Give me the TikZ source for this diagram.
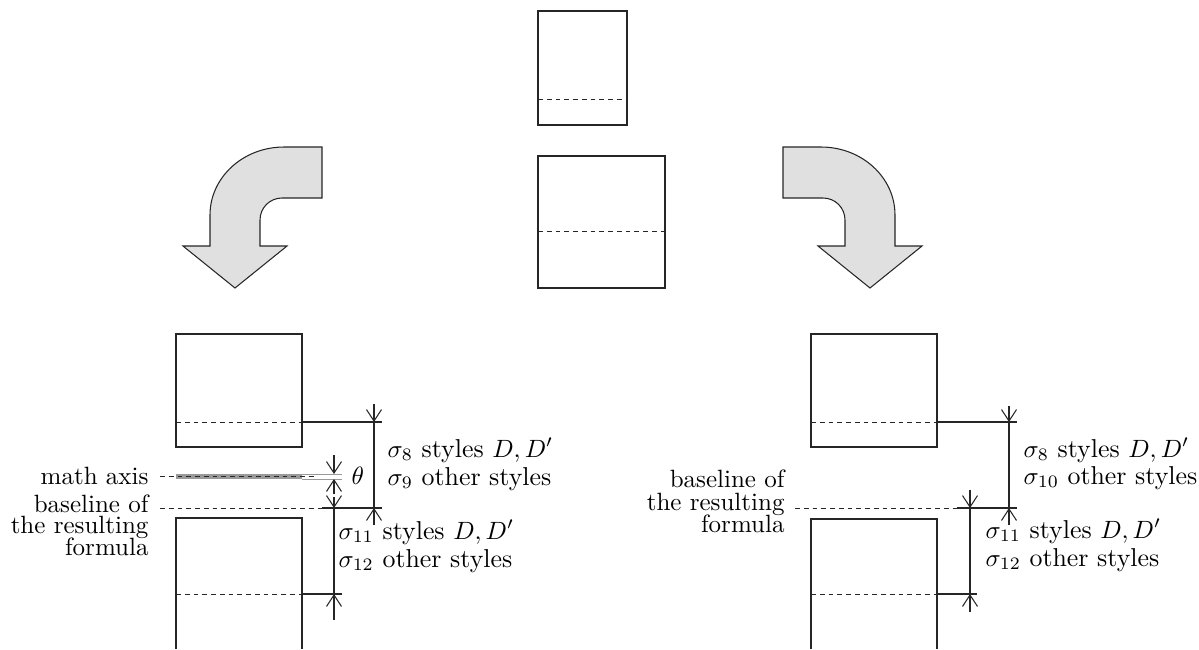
\documentclass[tikz,border=0pt]{standalone}
\usetikzlibrary{arrows.meta}
\begin{document}
\begin{tikzpicture}[x=0.4pt,y=-0.4pt,
  box/.style={draw=black!85, line width=0.42pt},
  base/.style={draw=black!85, dash pattern=on 1.9pt off 1.6pt, line width=0.38pt},
  dim/.style={draw=black!85, line width=0.42pt},
  tip/.style={-{Straight Barb[length=4.6pt,width=6pt]}},
  lab/.style={inner sep=0pt, font=\fontsize{10}{12}\selectfont},
  slab/.style={inner sep=0pt, font=\fontsize{10.35}{12}\selectfont},
  bigarrow/.style={draw=black!85, line width=0.42pt, fill=black!12}]
\useasboundingbox (0,0) rectangle (1199,649);

% top centre boxes
\draw[box] (538,11) rectangle (627,125);
\draw[base] (538,99) -- (627,99);
\draw[box] (538,156) rectangle (665,288);
\draw[base] (538,231) -- (665,231);

% bent arrows
\path[bigarrow] (322,147) -- (284,147) .. controls (243.1,147) and (210,177.4) .. (210,215)
  -- (210,246) -- (183,246) -- (235,288) -- (287,246) -- (260,246) -- (260,220)
  .. controls (260,207.8) and (269.8,198) .. (282,198) -- (322,198) -- cycle;
\begin{scope}[shift={(1105,0)},xscale=-1]
\path[bigarrow] (322,147) -- (284,147) .. controls (243.1,147) and (210,177.4) .. (210,215)
  -- (210,246) -- (183,246) -- (235,288) -- (287,246) -- (260,246) -- (260,220)
  .. controls (260,207.8) and (269.8,198) .. (282,198) -- (322,198) -- cycle;
\end{scope}

% ---------- left result ----------
\draw[box] (176,334) rectangle (302,447);
\draw[base] (176,422) -- (302,422);
\draw[dim] (302,422) -- (382,422);
\draw[box] (176,649) -- (176,518) -- (302,518) -- (302,649);
\draw[base] (176,594) -- (302,594);
\draw[dim] (302,594) -- (342,594);

% math axis
\fill[black!40] (176,474) rectangle (302,479);
\draw[black!40, line width=0.4pt] (302,474) -- (342,474) (302,479) -- (342,479);
\draw[base] (160,476.5) -- (317,476.5);
\node[lab, anchor=base east] (ma) at (149,484) {math axis};

% baseline
\draw[base] (160,508) -- (322,508);
\draw[dim] (322,508) -- (382,508);
\node[lab, anchor=base east] (lb1) at (149,512) {baseline of};
\node[lab, anchor=base east] (lb2) at (149,533.5) {the resulting};
\node[lab, anchor=base east] (lb3) at (149,555) {formula};

% sigma8 dimension
\draw[dim,tip] (374,404) -- (374,422);
\draw[dim] (374,422) -- (374,508);
\draw[dim,tip] (374,525) -- (374,508);

% theta and sigma11 dimension
\draw[dim,tip] (334,455) -- (334,474);
\draw[dim,tip] (334,490) -- (334,479);
\draw[dim, dash pattern=on 1.5pt off 1.5pt] (334,490) -- (334,497);
\draw[dim,tip] (334,497) -- (334,508);
\draw[dim] (334,508) -- (334,594);
\draw[dim,tip] (334,620) -- (334,594);

\node[slab, anchor=base west] (th) at (351,484) {$\theta$};
\node[slab, anchor=base west] (ls1) at (387,457) {$\sigma_8$ styles $D,D'$};
\node[slab, anchor=base west] (ls2) at (387,485) {$\sigma_9$ other styles};
\node[slab, anchor=base west] (ls3) at (338,539) {$\sigma_{11}$ styles $D,D'$};
\node[slab, anchor=base west] (ls4) at (338,567) {$\sigma_{12}$ other styles};

% ---------- right result ----------
\draw[box] (811,334) rectangle (937,447);
\draw[base] (811,422) -- (937,422);
\draw[dim] (937,422) -- (1017,422);
\draw[box] (811,649) -- (811,519) -- (937,519) -- (937,649);
\draw[base] (811,594) -- (937,594);
\draw[dim] (937,594) -- (977,594);

\draw[base] (795,508) -- (957,508);
\draw[dim] (957,508) -- (1017,508);
\node[lab, anchor=base east] (rb1) at (785,487.5) {baseline of};
\node[lab, anchor=base east] (rb2) at (785,510) {the resulting};
\node[lab, anchor=base east] (rb3) at (785,532.5) {formula};

\draw[dim,tip] (1009,406) -- (1009,422);
\draw[dim] (1009,422) -- (1009,508);
\draw[dim,tip] (1009,525) -- (1009,508);

\draw[dim,tip] (970,490) -- (970,508);
\draw[dim] (970,508) -- (970,594);
\draw[dim,tip] (970,612) -- (970,594);

\node[slab, anchor=base west] (rs1) at (1023,457) {$\sigma_8$ styles $D,D'$};
\node[slab, anchor=base west] (rs2) at (1023,484) {$\sigma_{10}$ other styles};
\node[slab, anchor=base west] (rs3) at (985,538) {$\sigma_{11}$ styles $D,D'$};
\node[slab, anchor=base west] (rs4) at (985,566) {$\sigma_{12}$ other styles};
\end{tikzpicture}
\end{document}
